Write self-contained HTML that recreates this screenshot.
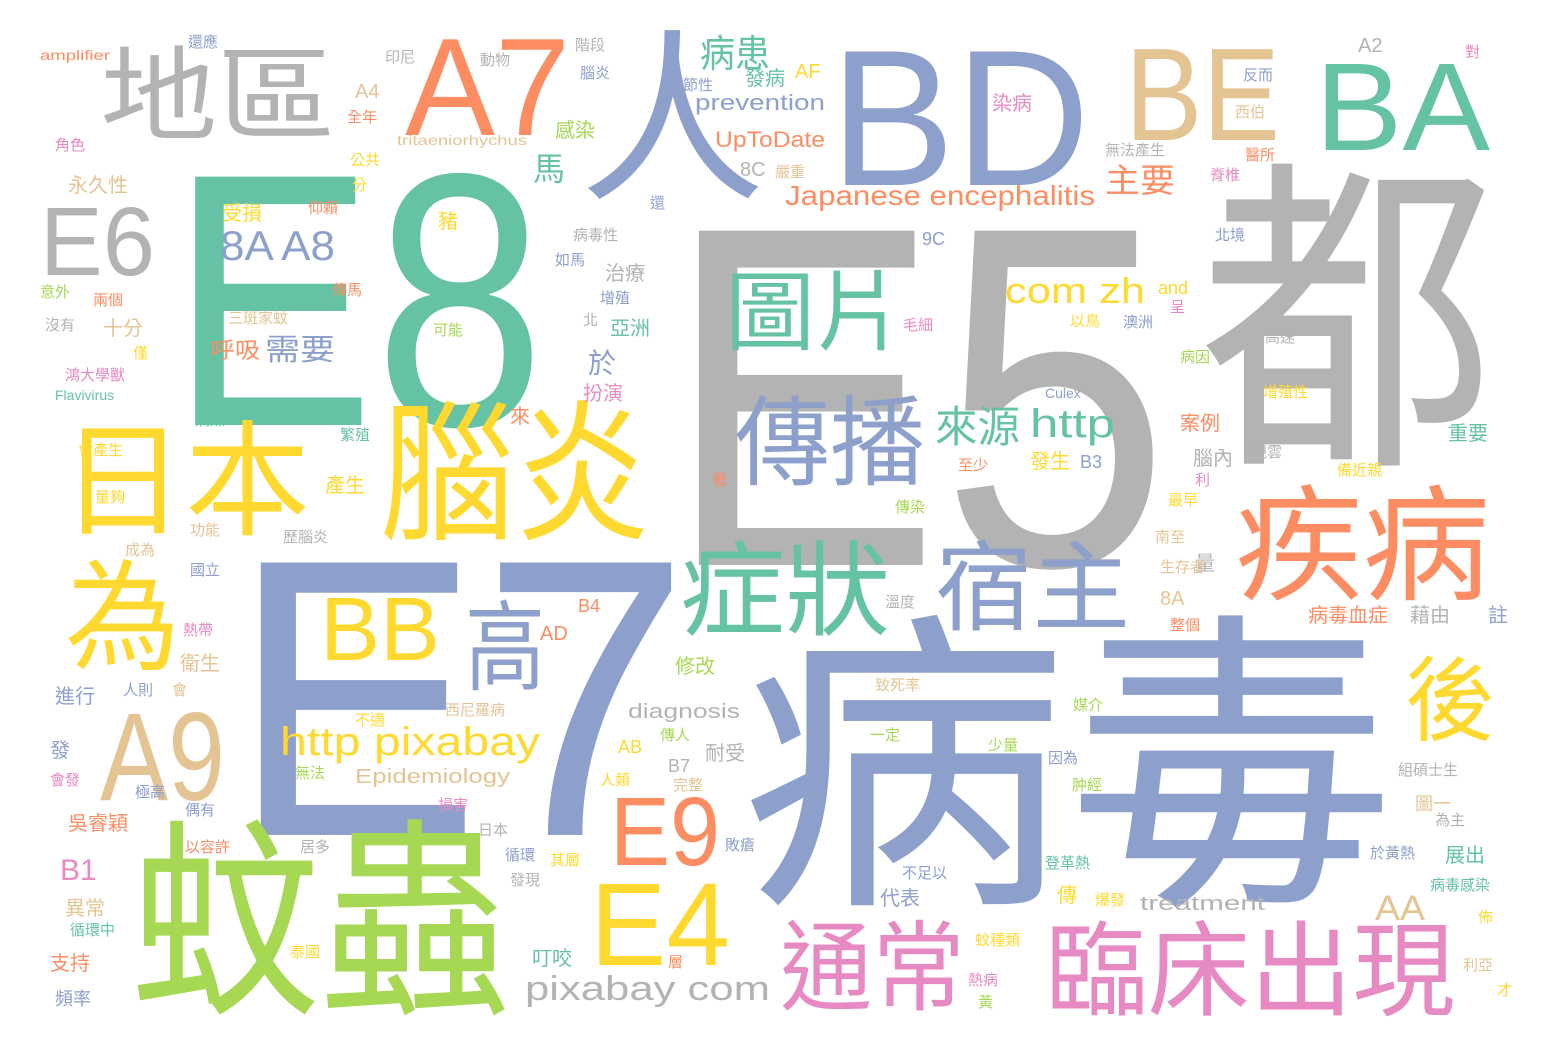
<!DOCTYPE html>
<html><head><meta charset="utf-8"><style>
html,body{margin:0;padding:0;background:#fff;}
svg{display:block;}
text{font-family:"Liberation Sans","Noto Sans CJK TC",sans-serif;}
.c{font-family:"Noto Sans CJK TC","WenQuanYi Zen Hei",sans-serif;}
.g{fill:#66c2a5}.o{fill:#fc8d62}.b{fill:#8da0cb}.p{fill:#e78ac3}.l{fill:#a6d854}.y{fill:#ffd92f}.t{fill:#e5c494}.r{fill:#b3b3b3}
.s{font-size:15px}.m{font-size:20px}
</style></head><body>
<svg width="1548" height="1052" viewBox="0 0 1548 1052">
<rect width="1548" height="1052" fill="#fff"/>
<g lengthAdjust="spacingAndGlyphs">
<text class="r" x="665" y="565" font-size="486" textLength="505" lengthAdjust="spacingAndGlyphs">E5</text>
<text class="g" x="170" y="425" font-size="361" textLength="375" lengthAdjust="spacingAndGlyphs">E8</text>
<text class="b" x="230" y="835" font-size="396" textLength="460" lengthAdjust="spacingAndGlyphs">E7</text>
<text class="b" x="830" y="185" font-size="194" textLength="260" lengthAdjust="spacingAndGlyphs">BD</text>
<text class="t" x="1125" y="140" font-size="132" textLength="155" lengthAdjust="spacingAndGlyphs">BE</text>
<text class="g" x="1315" y="150" font-size="125" textLength="175" lengthAdjust="spacingAndGlyphs">BA</text>
<text class="o" x="405" y="135" font-size="139" textLength="165" lengthAdjust="spacingAndGlyphs">A7</text>
<text class="r" x="40" y="275" font-size="97" textLength="115" lengthAdjust="spacingAndGlyphs">E6</text>
<text class="t" x="100" y="800" font-size="125" textLength="125" lengthAdjust="spacingAndGlyphs">A9</text>
<text class="y" x="320" y="660" font-size="90" textLength="120" lengthAdjust="spacingAndGlyphs">BB</text>
<text class="o" x="610" y="865" font-size="97" textLength="110" lengthAdjust="spacingAndGlyphs">E9</text>
<text class="y" x="590" y="965" font-size="118" textLength="140" lengthAdjust="spacingAndGlyphs">E4</text>
<text class="t" x="1375" y="920" font-size="35" textLength="50" lengthAdjust="spacingAndGlyphs">AA</text>
<text class="b" x="220" y="260" font-size="42" textLength="115" lengthAdjust="spacingAndGlyphs">8A A8</text>

<text class="b c" x="740" y="880" font-size="315" textLength="655" lengthAdjust="spacingAndGlyphs">病毒</text>
<text class="r c" x="1200" y="439" font-size="331" textLength="295" lengthAdjust="spacingAndGlyphs">都</text>
<text class="b c" x="580" y="185" font-size="185" textLength="185" lengthAdjust="spacingAndGlyphs">人</text>
<text class="r c" x="100" y="132" font-size="103" textLength="235" lengthAdjust="spacingAndGlyphs">地區</text>
<text class="y c" x="60" y="525" font-size="125" textLength="250" lengthAdjust="spacingAndGlyphs">日本</text>
<text class="y c" x="380" y="528" font-size="152" textLength="270" lengthAdjust="spacingAndGlyphs">腦炎</text>
<text class="y c" x="65" y="660" font-size="120" textLength="115" lengthAdjust="spacingAndGlyphs">為</text>
<text class="l c" x="130" y="998" font-size="212" textLength="380" lengthAdjust="spacingAndGlyphs">蚊蟲</text>
<text class="b c" x="465" y="682" font-size="98" textLength="80" lengthAdjust="spacingAndGlyphs">高</text>
<text class="g c" x="680" y="627" font-size="103" textLength="210" lengthAdjust="spacingAndGlyphs">症狀</text>
<text class="b c" x="935" y="622" font-size="98" textLength="195" lengthAdjust="spacingAndGlyphs">宿主</text>
<text class="o c" x="1235" y="590" font-size="125" textLength="255" lengthAdjust="spacingAndGlyphs">疾病</text>
<text class="b c" x="735" y="477" font-size="98" textLength="190" lengthAdjust="spacingAndGlyphs">傳播</text>
<text class="g c" x="725" y="343" font-size="87" textLength="180" lengthAdjust="spacingAndGlyphs">圖片</text>
<text class="y c" x="1405" y="733" font-size="92" textLength="90" lengthAdjust="spacingAndGlyphs">後</text>
<text class="p c" x="780" y="1002" font-size="98" textLength="185" lengthAdjust="spacingAndGlyphs">通常</text>
<text class="p c" x="1045" y="1007" font-size="103" textLength="410" lengthAdjust="spacingAndGlyphs">臨床出現</text>
<text class="g c" x="935" y="442" font-size="43" textLength="85" lengthAdjust="spacingAndGlyphs">來源</text>
<text class="g c" x="700" y="67" font-size="38" textLength="70" lengthAdjust="spacingAndGlyphs">病患</text>
<text class="o c" x="1105" y="192" font-size="33" textLength="70" lengthAdjust="spacingAndGlyphs">主要</text>
<text class="b c" x="265" y="360" font-size="30" textLength="70" lengthAdjust="spacingAndGlyphs">需要</text>
<text class="o c" x="210" y="358" font-size="22" textLength="50" lengthAdjust="spacingAndGlyphs">呼吸</text>

<text class="r" x="525" y="1000" font-size="34" textLength="245" lengthAdjust="spacingAndGlyphs">pixabay com</text>
<text class="y" x="280" y="755" font-size="40" textLength="260" lengthAdjust="spacingAndGlyphs">http pixabay</text>
<text class="y" x="1005" y="303" font-size="36" textLength="140" lengthAdjust="spacingAndGlyphs">com zh</text>
<text class="g" x="1030" y="437" font-size="40" textLength="85" lengthAdjust="spacingAndGlyphs">http</text>
<text class="o" x="785" y="205" font-size="28" textLength="310" lengthAdjust="spacingAndGlyphs">Japanese encephalitis</text>
<text class="b" x="695" y="110" font-size="22" textLength="130" lengthAdjust="spacingAndGlyphs">prevention</text>
<text class="o" x="715" y="147" font-size="22" textLength="110" lengthAdjust="spacingAndGlyphs">UpToDate</text>
<text class="r" x="1140" y="910" font-size="20" textLength="125" lengthAdjust="spacingAndGlyphs">treatment</text>
<text class="r" x="628" y="718" font-size="20" textLength="112" lengthAdjust="spacingAndGlyphs">diagnosis</text>
<text class="t" x="355" y="783" font-size="20" textLength="155" lengthAdjust="spacingAndGlyphs">Epidemiology</text>
<text class="o" x="40" y="60" font-size="14" textLength="70" lengthAdjust="spacingAndGlyphs">amplifier</text>
<text class="t" x="397" y="145" font-size="14" textLength="130" lengthAdjust="spacingAndGlyphs">tritaeniorhychus</text>
<text class="g" x="55" y="400" font-size="14">Flavivirus</text>
<text class="b" x="1045" y="398" font-size="14">Culex</text>
</g>

<g>
<text class="b c s" x="188" y="47">還應</text>
<text class="r c s" x="385" y="62">印尼</text>
<text class="r c s" x="480" y="65">動物</text>
<text class="r c s" x="575" y="50">階段</text>
<text class="b c s" x="580" y="78">腦炎</text>
<text class="b c s" x="683" y="90">節性</text>
<text class="g c m" x="745" y="85">發病</text>
<text class="y m" x="795" y="78">AF</text>
<text class="p c m" x="992" y="110">染病</text>
<text class="r m" x="1358" y="52">A2</text>
<text class="p c s" x="1465" y="57">對</text>
<text class="b c s" x="1243" y="80">反而</text>
<text class="t c s" x="1235" y="117">西伯</text>
<text class="t m" x="355" y="98">A4</text>
<text class="o c s" x="347" y="122">全年</text>
<text class="p c s" x="55" y="150">角色</text>
<text class="l c m" x="555" y="137">感染</text>
<text class="r c s" x="1105" y="155">無法產生</text>
<text class="o c s" x="1245" y="160">醫所</text>
<text class="p c s" x="1210" y="180">脊椎</text>
<text class="y c s" x="350" y="165">公共</text>
<text class="y c s" x="352" y="190">分</text>
<text class="g c" font-size="32" x="533" y="180">馬</text>
<text class="r m" x="740" y="176">8C</text>
<text class="t c s" x="775" y="177">嚴重</text>
<text class="t c m" x="68" y="192">永久性</text>
<text class="y c m" x="222" y="220">受損</text>
<text class="o c s" x="308" y="213">仰賴</text>
<text class="y c m" x="438" y="228">豬</text>
<text class="b c s" x="650" y="208">還</text>
<text class="b" font-size="18" x="922" y="245">9C</text>
<text class="b c s" x="1215" y="240">北境</text>
<text class="r c s" x="573" y="240">病毒性</text>
<text class="b c s" x="555" y="265">如馬</text>
<text class="r c m" x="605" y="280">治療</text>
<text class="b c s" x="600" y="303">增殖</text>
<text class="y" font-size="18" x="1158" y="294">and</text>
<text class="p c s" x="1170" y="312">呈</text>
<text class="l c s" x="40" y="297">意外</text>
<text class="o c s" x="93" y="305">兩個</text>
<text class="o c s" x="332" y="295">傳馬</text>
<text class="t c s" x="228" y="323">三斑家蚊</text>
<text class="r c s" x="583" y="325">北</text>
<text class="g c m" x="610" y="335">亞洲</text>
<text class="p c s" x="903" y="330">毛細</text>
<text class="y c s" x="1070" y="326">以鳥</text>
<text class="b c s" x="1123" y="327">澳洲</text>
<text class="r c s" x="1265" y="342">高速</text>
<text class="r c s" x="45" y="330">沒有</text>
<text class="t c m" x="103" y="335">十分</text>
<text class="l c s" x="433" y="335">可能</text>
<text class="b c" font-size="28" x="588" y="373">於</text>
<text class="p c m" x="583" y="400">扮演</text>
<text class="y c s" x="133" y="358">僅</text>
<text class="l c s" x="1180" y="362">病因</text>
<text class="p c s" x="65" y="380">鴻大學獸</text>
<text class="y c s" x="1263" y="397">增殖性</text>
<text class="g c s" x="195" y="425">病媒</text>
<text class="g c s" x="340" y="440">繁殖</text>
<text class="o c m" x="510" y="423">來</text>
<text class="o c m" x="1180" y="430">案例</text>
<text class="g c m" x="1448" y="440">重要</text>
<text class="y c s" x="78" y="455">會產生</text>
<text class="r c m" x="1193" y="465">腦內</text>
<text class="r c s" x="1252" y="457">現雲</text>
<text class="y c m" x="1030" y="468">發生</text>
<text class="b" font-size="18" x="1080" y="468">B3</text>
<text class="o c s" x="958" y="470">至少</text>
<text class="p c s" x="1195" y="485">利</text>
<text class="y c s" x="1337" y="475">備近親</text>
<text class="y c m" x="325" y="492">產生</text>
<text class="y c s" x="95" y="502">量夠</text>
<text class="o c s" x="712" y="485">著</text>
<text class="l c s" x="895" y="512">傳染</text>
<text class="y c s" x="1168" y="505">最早</text>
<text class="t c s" x="190" y="535">功能</text>
<text class="r c s" x="283" y="542">歷腦炎</text>
<text class="t c s" x="125" y="555">成為</text>
<text class="t c s" x="1155" y="542">南至</text>
<text class="b c s" x="190" y="575">國立</text>
<text class="r c m" x="1195" y="570">量</text>
<text class="t c s" x="1160" y="572">生存者</text>
<text class="r c s" x="885" y="607">溫度</text>
<text class="o" font-size="18" x="578" y="612">B4</text>
<text class="t m" x="1160" y="605">8A</text>
<text class="o c m" x="1308" y="622">病毒血症</text>
<text class="r c m" x="1410" y="622">藉由</text>
<text class="b c m" x="1488" y="622">註</text>
<text class="o c s" x="1170" y="630">整個</text>
<text class="o m" x="540" y="640">AD</text>
<text class="p c s" x="183" y="635">熱帶</text>
<text class="t c m" x="180" y="670">衛生</text>
<text class="l c m" x="675" y="673">修改</text>
<text class="t c s" x="875" y="690">致死率</text>
<text class="b c m" x="55" y="703">進行</text>
<text class="b c s" x="123" y="695">人則</text>
<text class="t c s" x="172" y="695">會</text>
<text class="t c s" x="445" y="715">西尼羅病</text>
<text class="l c s" x="1073" y="710">媒介</text>
<text class="l c s" x="870" y="740">一定</text>
<text class="l c s" x="660" y="740">傳人</text>
<text class="r c m" x="705" y="760">耐受</text>
<text class="l c s" x="988" y="750">少量</text>
<text class="y c s" x="355" y="725">不適</text>
<text class="b c m" x="50" y="757">發</text>
<text class="y" font-size="18" x="618" y="753">AB</text>
<text class="b c s" x="1048" y="763">因為</text>
<text class="r c s" x="1398" y="775">組碩士生</text>
<text class="p c s" x="50" y="785">會發</text>
<text class="l c s" x="295" y="778">無法</text>
<text class="r" font-size="18" x="668" y="772">B7</text>
<text class="y c s" x="600" y="785">人類</text>
<text class="t c s" x="673" y="790">完整</text>
<text class="l c s" x="1072" y="790">肿經</text>
<text class="b c s" x="135" y="797">極高</text>
<text class="p c s" x="438" y="810">損害</text>
<text class="t c" font-size="18" x="1415" y="810">圖一</text>
<text class="r c s" x="1435" y="825">為主</text>
<text class="b c s" x="185" y="815">偶有</text>
<text class="o c m" x="68" y="830">吳睿穎</text>
<text class="o c s" x="185" y="852">以容許</text>
<text class="r c s" x="300" y="852">居多</text>
<text class="r c s" x="478" y="835">日本</text>
<text class="b c s" x="725" y="850">敗瘡</text>
<text class="b c s" x="505" y="860">循環</text>
<text class="y c s" x="550" y="865">其層</text>
<text class="b c s" x="902" y="878">不足以</text>
<text class="g c s" x="1045" y="868">登革熱</text>
<text class="b c s" x="1370" y="858">於黃熱</text>
<text class="g c m" x="1445" y="862">展出</text>
<text class="b c s" x="1160" y="853">量</text>
<text class="g c s" x="1430" y="890">病毒感染</text>
<text class="p" font-size="30" x="60" y="880">B1</text>
<text class="r c s" x="510" y="885">發現</text>
<text class="b c m" x="880" y="905">代表</text>
<text class="y c m" x="1057" y="902">傳</text>
<text class="y c s" x="1095" y="905">爆發</text>
<text class="t c m" x="65" y="915">異常</text>
<text class="g c s" x="70" y="935">循環中</text>
<text class="y c s" x="1478" y="922">佈</text>
<text class="y c s" x="975" y="945">蚊種類</text>
<text class="g c m" x="532" y="965">叮咬</text>
<text class="o c m" x="50" y="970">支持</text>
<text class="y c s" x="290" y="957">泰國</text>
<text class="o c s" x="668" y="967">層</text>
<text class="p c s" x="968" y="985">熱病</text>
<text class="t c s" x="1463" y="970">利亞</text>
<text class="b c" font-size="18" x="55" y="1005">頻率</text>
<text class="l c s" x="978" y="1007">黃</text>
<text class="y c s" x="1497" y="995">才</text>
</g>
</svg>
</body></html>
